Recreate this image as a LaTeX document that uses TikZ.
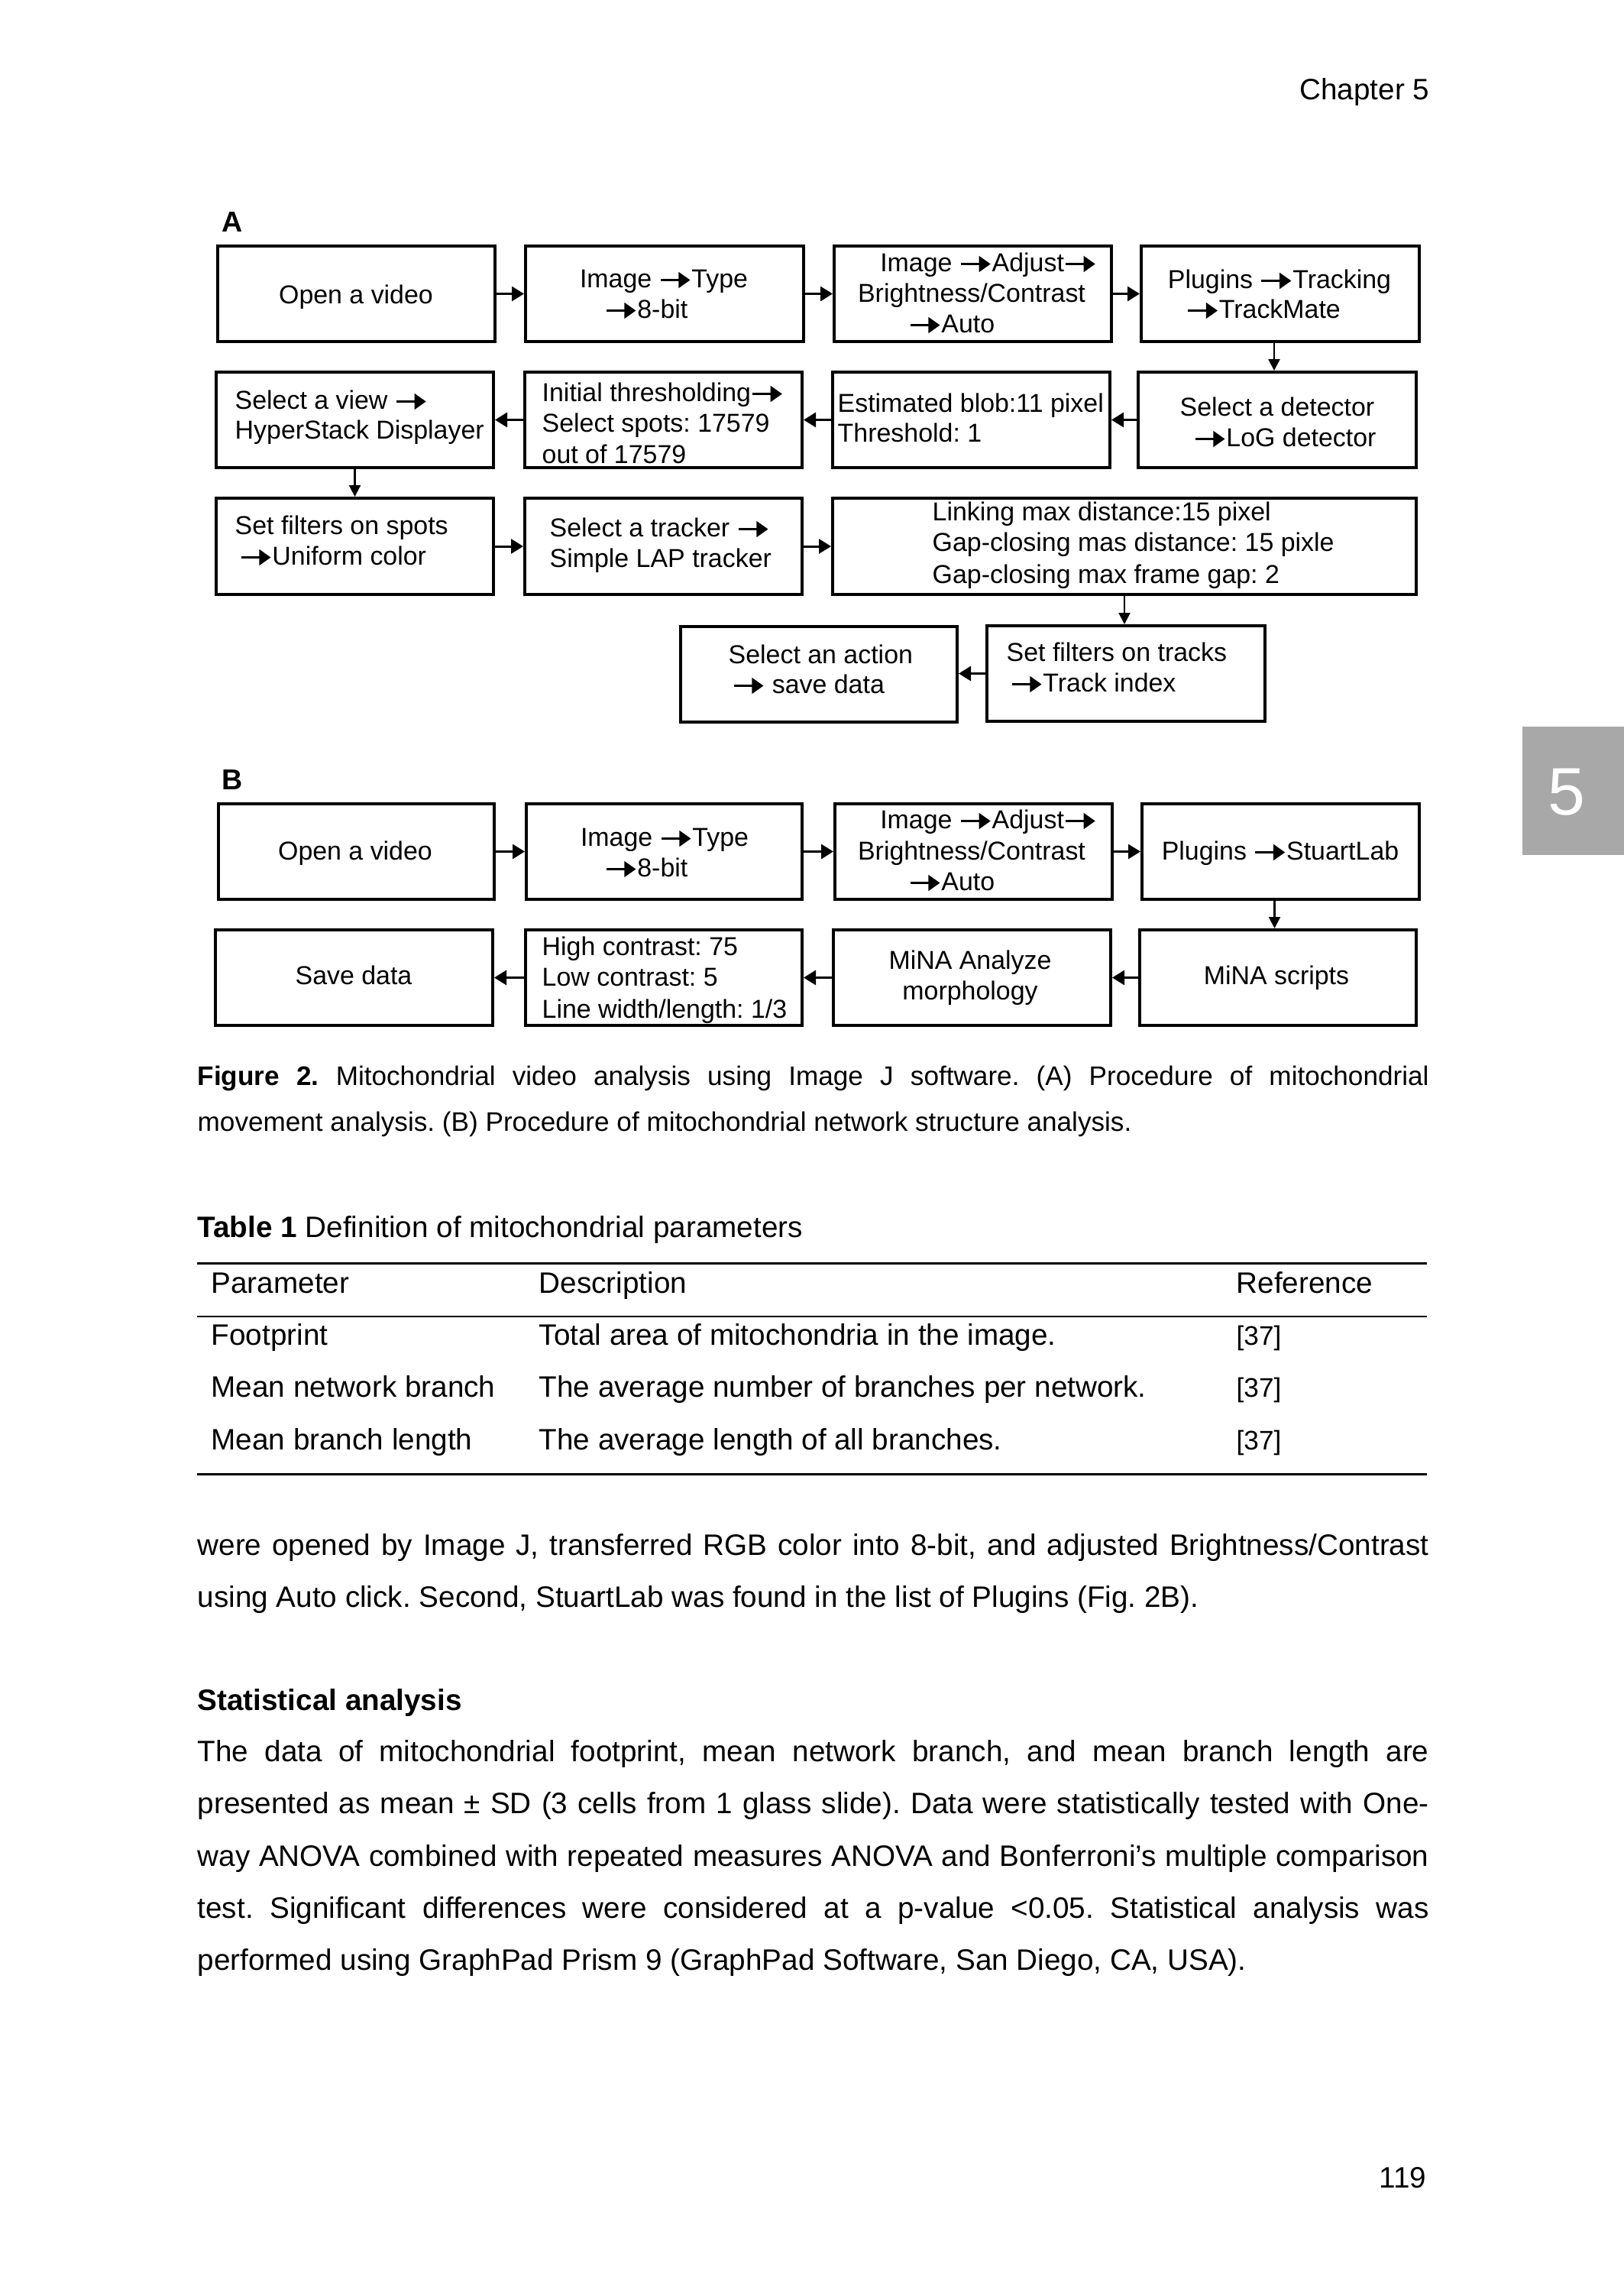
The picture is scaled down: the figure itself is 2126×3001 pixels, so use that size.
\documentclass[tikz,border=0pt]{standalone}
\usepackage{fontspec}
\setmainfont{Liberation Sans}
\usetikzlibrary{arrows.meta,fit}
\frenchspacing
\newcommand{\myarr}{\tikz[baseline=0pt]{\draw[line width=0.11em,-{Triangle[length=0.45em,width=0.6em]}] (0pt,0.28em) -- (1.15em,0.28em);}}
\newcommand{\dfont}{\fontsize{9.65}{11.3}\selectfont}
\newcommand{\bfont}{\fontsize{11}{13}\selectfont}
\newcommand{\cfont}{\fontsize{10}{12}\selectfont}
\begin{document}
\begin{tikzpicture}[x=0.1mm,y=-0.1mm,
 fbox/.style={draw, line width=0.4mm, inner sep=0pt},
 conn/.style={line width=0.3mm, -{Triangle[length=1.6mm,width=1.9mm]}},
 vconn/.style={line width=0.22mm, -{Triangle[length=1.5mm,width=1.5mm]}},
 dl/.style={inner sep=0pt, font=\dfont, anchor=base west},
 dc/.style={inner sep=0pt, font=\dfont, anchor=base},
 bt/.style={inner sep=0pt, font=\bfont, anchor=base west},
 ct/.style={inner sep=0pt, font=\cfont, anchor=base west},
 plab/.style={inner sep=0pt, font=\fontsize{10.7}{12}\selectfont\bfseries, anchor=base west},
 rule/.style={line width=0.3mm},
 thinrule/.style={line width=0.15mm}]
\fill[white] (0,0) rectangle (2126,3001);
\useasboundingbox (0,0) rectangle (2126,3001);

% header, page number, tab
\node[bt, anchor=base east] (chap) at (1872,130) {Chapter 5};
\node[bt, anchor=base east] (pnum) at (1868,2863) {119};
\fill[black!34] (1993,951) rectangle (2126,1119);
\node[inner sep=0pt, text=white, font=\fontsize{25}{30}\selectfont] (tab) at (2051,1037) {5};

% ---------- Panel A ----------
\node[plab] (labA) at (290,303) {A};
\node[fbox, fit={(285,322) (648,447)}] (A1) {};
\node[fbox, fit={(688,322) (1052,447)}] (A2) {};
\node[fbox, fit={(1092,322) (1455,447)}] (A3) {};
\node[fbox, fit={(1494,322) (1858,447)}] (A4) {};
\node[fbox, fit={(283,487) (646,612)}] (A5) {};
\node[fbox, fit={(687,487) (1050,612)}] (A6) {};
\node[fbox, fit={(1090,487) (1453,612)}] (A7) {};
\node[fbox, fit={(1490,487) (1854,612)}] (A8) {};
\node[fbox, fit={(283,652) (646,778)}] (A9) {};
\node[fbox, fit={(687,652) (1050,778)}] (A10) {};
\node[fbox, fit={(1090,652) (1854,778)}] (A11) {};
\node[fbox, fit={(891,820) (1253,945)}] (A12) {};
\node[fbox, fit={(1292,819) (1656,944)}] (A13) {};

\node[dc] (a1t) at (466,397) {Open a video};
\node[dc] (a2t1) at (869,376) {Image \myarr Type};
\node[dc] (a2t2) at (846,416) {\myarr 8-bit};
\node[dc] (a3t1) at (1294,355) {Image \myarr Adjust\myarr};
\node[dc] (a3t2) at (1272,395) {Brightness/Contrast};
\node[dc] (a3t3) at (1246,435) {\myarr Auto};
\node[dc] (a4t1) at (1675,377) {Plugins \myarr Tracking};
\node[dc] (a4t2) at (1654,416) {\myarr TrackMate};
\node[dl] (a5t1) at (307,535) {Select a view \myarr};
\node[dl] (a5t2) at (307,574) {HyperStack Displayer};
\node[dl] (a6t1) at (709,525) {Initial thresholding\myarr};
\node[dl] (a6t2) at (709,565) {Select spots: 17579};
\node[dl] (a6t3) at (709,606) {out of 17579};
\node[dl] (a7t1) at (1096,539) {Estimated blob:11 pixel};
\node[dl] (a7t2) at (1096,578) {Threshold: 1};
\node[dl] (a8t1) at (1544,544) {Select a detector};
\node[dl] (a8t2) at (1562,584) {\myarr LoG detector};
\node[dl] (a9t1) at (307,699) {Set filters on spots};
\node[dl] (a9t2) at (313,739) {\myarr Uniform color};
\node[dl] (a10t1) at (719,702) {Select a tracker \myarr};
\node[dl] (a10t2) at (719,742) {Simple LAP tracker};
\node[dl] (a11t1) at (1220,681) {Linking max distance:15 pixel};
\node[dl] (a11t2) at (1220,721) {Gap-closing mas distance: 15 pixle};
\node[dl] (a11t3) at (1220,763) {Gap-closing max frame gap: 2};
\node[dl] (a12t1) at (953,868) {Select an action};
\node[dl] (a12t2) at (958,907) {\myarr\ save data};
\node[dl] (a13t1) at (1317,865) {Set filters on tracks};
\node[dl] (a13t2) at (1322,905) {\myarr Track index};

\draw[conn] (A1.east) -- (A1.east -| A2.west);
\draw[conn] (A2.east) -- (A2.east -| A3.west);
\draw[conn] (A3.east) -- (A3.east -| A4.west);
\draw[vconn] ([xshift=-0.8mm]A4.south) -- ([xshift=-0.8mm]A4.south |- A8.north);
\draw[conn] (A8.west) -- (A8.west -| A7.east);
\draw[conn] (A7.west) -- (A7.west -| A6.east);
\draw[conn] (A6.west) -- (A6.west -| A5.east);
\draw[vconn] (A5.south) -- (A5.south |- A9.north);
\draw[conn] (A9.east) -- (A9.east -| A10.west);
\draw[conn] (A10.east) -- (A10.east -| A11.west);
\draw[vconn] (A11.south) -- (A11.south |- A13.north);
\draw[conn] (A13.west) -- (A13.west -| A12.east);

% ---------- Panel B ----------
\node[plab] (labB) at (290,1033) {B};
\node[fbox, fit={(286,1052) (647,1177)}] (B1) {};
\node[fbox, fit={(689,1052) (1050,1177)}] (B2) {};
\node[fbox, fit={(1093,1052) (1456,1177)}] (B3) {};
\node[fbox, fit={(1495,1052) (1858,1177)}] (B4) {};
\node[fbox, fit={(282,1217) (645,1342)}] (B5) {};
\node[fbox, fit={(688,1217) (1050,1342)}] (B6) {};
\node[fbox, fit={(1091,1217) (1454,1342)}] (B7) {};
\node[fbox, fit={(1492,1217) (1854,1342)}] (B8) {};

\node[dc] (b1t) at (465,1125) {Open a video};
\node[dc] (b2t1) at (870,1107) {Image \myarr Type};
\node[dc] (b2t2) at (846,1147) {\myarr 8-bit};
\node[dc] (b3t1) at (1294,1084) {Image \myarr Adjust\myarr};
\node[dc] (b3t2) at (1272,1125) {Brightness/Contrast};
\node[dc] (b3t3) at (1246,1165) {\myarr Auto};
\node[dc] (b4t) at (1676,1125) {Plugins \myarr StuartLab};
\node[dc] (b5t) at (463,1288) {Save data};
\node[dl] (b6t1) at (709,1250) {High contrast: 75};
\node[dl] (b6t2) at (709,1290) {Low contrast: 5};
\node[dl] (b6t3) at (709,1332) {Line width/length: 1/3};
\node[dc] (b7t1) at (1270,1268) {MiNA Analyze};
\node[dc] (b7t2) at (1270,1308) {morphology};
\node[dc] (b8t) at (1671,1288) {MiNA scripts};

\draw[conn] (B1.east) -- (B1.east -| B2.west);
\draw[conn] (B2.east) -- (B2.east -| B3.west);
\draw[conn] (B3.east) -- (B3.east -| B4.west);
\draw[vconn] ([xshift=-0.8mm]B4.south) -- ([xshift=-0.8mm]B4.south |- B8.north);
\draw[conn] (B8.west) -- (B8.west -| B7.east);
\draw[conn] (B7.west) -- (B7.west -| B6.east);
\draw[conn] (B6.west) -- (B6.west -| B5.east);

% ---------- Caption ----------
\node[ct] (cap1) at (258,1420) {\makebox[161.2mm][s]{\textbf{Figure 2.} Mitochondrial video analysis using Image J software. (A) Procedure of mitochondrial}};
\node[ct] (cap2) at (258,1480) {movement analysis. (B) Procedure of mitochondrial network structure analysis.};

% ---------- Table ----------
\node[bt] (ttl) at (258,1619) {\textbf{Table 1} Definition of mitochondrial parameters};
\draw[rule] (258,1653) -- (1868,1653);
\draw[thinrule] (258,1723) -- (1868,1723);
\draw[rule] (258,1929) -- (1868,1929);
\node[bt] (h1) at (276,1692) {Parameter};
\node[bt] (h2) at (705,1692) {Description};
\node[bt] (h3) at (1618,1692) {Reference};
\node[bt] (r1a) at (276,1760) {Footprint};
\node[bt] (r1b) at (705,1760) {Total area of mitochondria in the image.};
\node[ct] (r1c) at (1618,1760) {[37]};
\node[bt] (r2a) at (276,1828) {Mean network branch};
\node[bt] (r2b) at (705,1828) {The average number of branches per network.};
\node[ct] (r2c) at (1618,1828) {[37]};
\node[bt] (r3a) at (276,1897) {Mean branch length};
\node[bt] (r3b) at (705,1897) {The average length of all branches.};
\node[ct] (r3c) at (1618,1897) {[37]};

% ---------- Body ----------
\node[bt] (p1a) at (258,2035) {\makebox[161.2mm][s]{were opened by Image J, transferred RGB color into 8-bit, and adjusted Brightness/Contrast}};
\node[bt] (p1b) at (258,2103) {using Auto click. Second, StuartLab was found in the list of Plugins (Fig. 2B).};
\node[bt] (sh) at (258,2238) {\textbf{Statistical analysis}};
\node[bt] (p2a) at (258,2305) {\makebox[161.2mm][s]{The data of mitochondrial footprint, mean network branch, and mean branch length are}};
\node[bt] (p2b) at (258,2373) {\makebox[161.2mm][s]{presented as mean ± SD (3 cells from 1 glass slide). Data were statistically tested with One-}};
\node[bt] (p2c) at (258,2442) {\makebox[161.2mm][s]{way ANOVA combined with repeated measures ANOVA and Bonferroni’s multiple comparison}};
\node[bt] (p2d) at (258,2510) {\makebox[161.2mm][s]{test. Significant differences were considered at a p-value <0.05. Statistical analysis was}};
\node[bt] (p2e) at (258,2578) {performed using GraphPad Prism 9 (GraphPad Software, San Diego, CA, USA).};
\end{tikzpicture}
\end{document}
